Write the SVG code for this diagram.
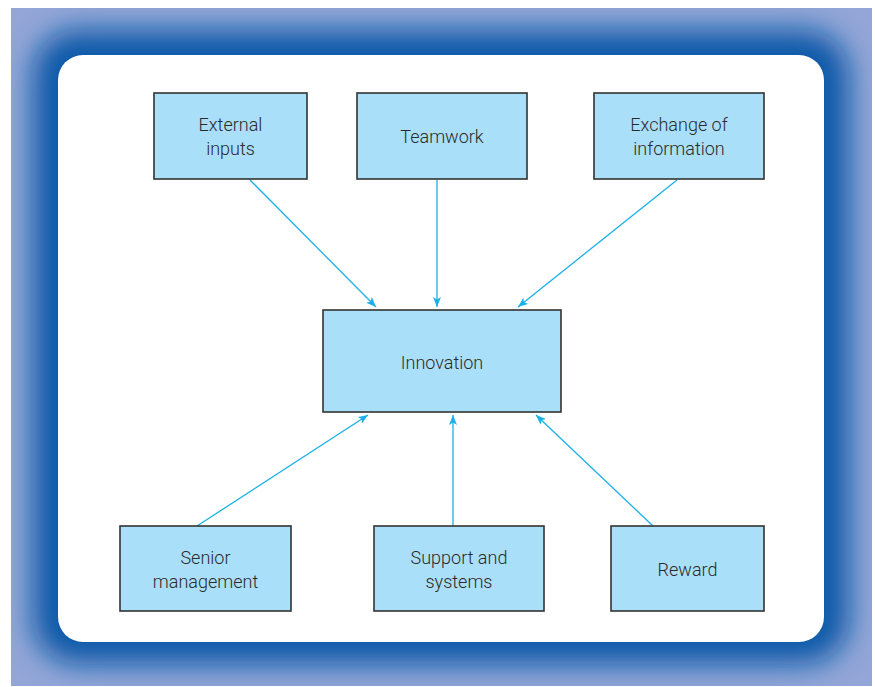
<svg xmlns="http://www.w3.org/2000/svg" width="875" height="687" viewBox="0 0 875 687">
  <defs>
    <clipPath id="frameClip"><rect x="11" y="8" width="861" height="678"/></clipPath>
    <filter id="blur" x="-10%" y="-10%" width="120%" height="120%"><feGaussianBlur stdDeviation="14"/></filter>
    <marker id="arrow" viewBox="0 0 10 8" refX="10" refY="4" markerWidth="10" markerHeight="8" markerUnits="userSpaceOnUse" orient="auto">
      <path d="M0,0 L10,4 L0,8 L2.5,4 Z" fill="#1ab0e8"/>
    </marker>
    <style>
      .box { fill: #aadff9; stroke: #333333; stroke-width: 1.6; }
      .lbl { font-family: Roboto, "Liberation Sans", sans-serif; font-size: 18px; font-weight: 300; fill: #2a2a2a; text-anchor: middle; }
      .con { stroke: #1ab0e8; stroke-width: 1.3; fill: none; marker-end: url(#arrow); }
    </style>
  </defs>
  <rect width="875" height="687" fill="#ffffff"/>
  <g id="frame" clip-path="url(#frameClip)">
    <rect x="11" y="8" width="861" height="678" fill="#93a6d7"/>
    <rect x="33" y="30" width="816" height="634" rx="45" fill="#0b5aa9" filter="url(#blur)"/>
  </g>
  <rect id="panel" x="58" y="55" width="766" height="587" rx="25" fill="#ffffff"/>

  <g id="connectors">
    <line class="con" x1="250" y1="180" x2="376" y2="307"/>
    <line class="con" x1="437" y1="180" x2="437" y2="307"/>
    <line class="con" x1="677" y1="180" x2="518" y2="307"/>
    <line class="con" x1="197" y1="526" x2="368" y2="415"/>
    <line class="con" x1="453" y1="526" x2="453" y2="415"/>
    <line class="con" x1="653" y1="526" x2="536" y2="415"/>
  </g>

  <g id="external-inputs">
    <rect class="box" x="154" y="93" width="153" height="86"/>
    <text class="lbl" x="230.5" y="131">External</text>
    <text class="lbl" x="230.5" y="155">inputs</text>
  </g>
  <g id="teamwork">
    <rect class="box" x="357" y="93" width="170" height="86"/>
    <text class="lbl" x="442" y="143">Teamwork</text>
  </g>
  <g id="exchange-of-information">
    <rect class="box" x="594" y="93" width="170" height="86"/>
    <text class="lbl" x="679" y="131">Exchange of</text>
    <text class="lbl" x="679" y="155">information</text>
  </g>
  <g id="innovation">
    <rect class="box" x="323" y="310" width="238" height="102"/>
    <text class="lbl" x="442" y="369">Innovation</text>
  </g>
  <g id="senior-management">
    <rect class="box" x="120" y="526" width="171" height="85"/>
    <text class="lbl" x="205.5" y="564">Senior</text>
    <text class="lbl" x="205.5" y="588">management</text>
  </g>
  <g id="support-and-systems">
    <rect class="box" x="374" y="526" width="170" height="85"/>
    <text class="lbl" x="459" y="564">Support and</text>
    <text class="lbl" x="459" y="588">systems</text>
  </g>
  <g id="reward">
    <rect class="box" x="611" y="526" width="153" height="85"/>
    <text class="lbl" x="687.5" y="576">Reward</text>
  </g>
</svg>
